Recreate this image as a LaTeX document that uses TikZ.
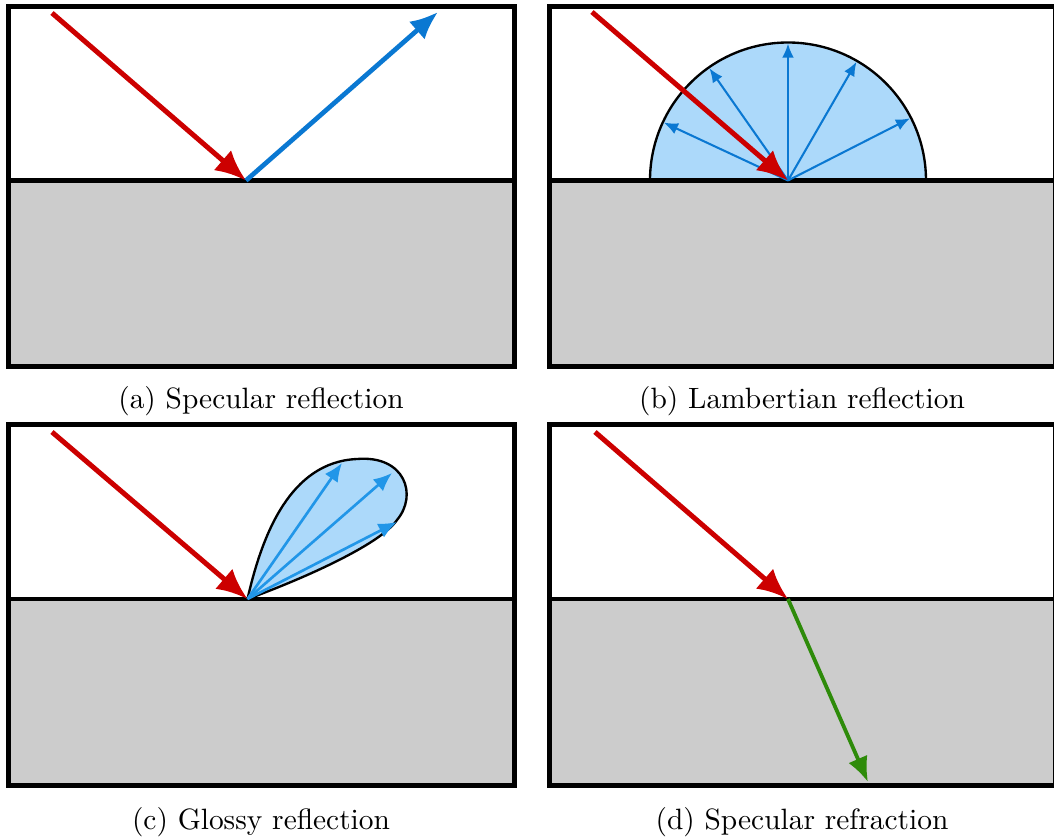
\documentclass[tikz,border=0pt]{standalone}
\usepackage{tikz}
\usetikzlibrary{arrows.meta}
\definecolor{rayred}{RGB}{204,0,0}
\definecolor{rayblue}{RGB}{10,120,210}
\definecolor{glossblue}{RGB}{33,150,232}
\definecolor{lobefill}{RGB}{172,217,250}
\definecolor{raygreen}{RGB}{46,139,10}
\definecolor{ground}{RGB}{204,204,204}
\begin{document}
\begin{tikzpicture}[x=0.34pt,y=-0.34pt,
    frame/.style={line width=1.7pt},
    incident/.style={rayred,line width=1.7pt,-{Latex[length=10.5pt,width=9pt]}},
    outray/.style={line width=1.6pt,-{Latex[length=9.5pt,width=8pt]}},
    fanray/.style={rayblue,line width=0.7pt,-{Latex[length=4.8pt,width=4pt]}},
    glossray/.style={glossblue,line width=0.9pt,-{Latex[length=6.3pt,width=5.3pt]}},
    lobe/.style={fill=lobefill,draw=black,line width=0.8pt},
    caption/.style={font=\normalsize}]
  \useasboundingbox (0,0) rectangle (1054,839);
  \clip (0,0) rectangle (1054,839);
  \foreach \px/\py in {0/0,541/0,0/418.5,541/418.5}
    \fill[ground] (\px+8.5,\py+180.5) rectangle (\px+514.5,\py+367);
  % lobes
  \coordinate (hitB) at (788,180.5);
  \filldraw[lobe] (hitB) ++(-138,0) arc[start angle=-180,end angle=0,radius=138] -- cycle;
  \coordinate (hitC) at (247.5,599);
  \filldraw[lobe] (hitC) .. controls (262,535) and (290,462) .. (357,459)
    .. controls (405,455) and (418,495) .. (397,520) .. controls (380,545) and (300,580) .. (hitC);
  % surfaces and frames
  \foreach \px/\py in {0/0,541/0,0/418.5,541/418.5}{
    \draw[line width=1.5pt] (\px+8.5,\py+180.5) -- (\px+514.5,\py+180.5);
    \draw[frame] (\px+8.5,\py+6.5) rectangle (\px+514.5,\py+367);
  }
  % (a) specular reflection
  \coordinate (srcA) at (52,13); \coordinate (hitA) at (246,180.5); \coordinate (outA) at (438,12);
  \draw[incident] (srcA) -- (hitA);
  \draw[outray,rayblue] (hitA) -- (outA);
  \node[caption] (capA) at (261,401) {(a) Specular reflection};
  % (b) lambertian reflection
  \foreach \a in {27,60,90,125,155} \draw[fanray] (hitB) -- ++(-\a:137);
  \coordinate (srcB) at (592,12);
  \draw[incident] (srcB) -- (hitB);
  \node[caption] (capB) at (802,401) {(b) Lambertian reflection};
  % (c) glossy reflection
  \coordinate (srcC) at (52,432);
  \coordinate (glossA) at (342,463); \coordinate (glossB) at (392,473); \coordinate (glossC) at (397,522);
  \foreach \g in {glossA,glossB,glossC} \draw[glossray] (hitC) -- (\g);
  \draw[incident] (srcC) -- (hitC);
  \node[caption] (capC) at (261,822) {(c) Glossy reflection};
  % (d) specular refraction
  \coordinate (srcD) at (595,432); \coordinate (hitD) at (788,599); \coordinate (outD) at (868,782);
  \draw[raygreen,line width=1.3pt,-{Latex[length=8.5pt,width=7pt]}] (hitD) -- (outD);
  \draw[incident] (srcD) -- (hitD);
  \node[caption] (capD) at (802,822) {(d) Specular refraction};
\end{tikzpicture}
\end{document}
